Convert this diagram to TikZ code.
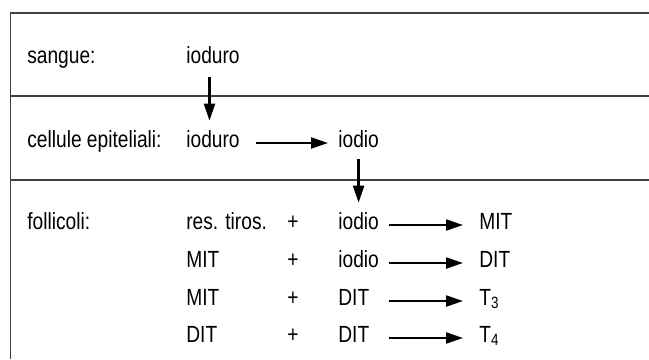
\documentclass[tikz,border=0pt]{standalone}
\usepackage{fontspec}
\setmainfont{Liberation Sans}[FakeStretch=0.82]
\usetikzlibrary{arrows.meta,positioning}

\begin{document}
\begin{tikzpicture}[
  txt/.style={font=\fontsize{13.3pt}{16pt}\selectfont, inner sep=0pt, text height=0.16cm, text depth=0pt, anchor=base west},
  col/.style={txt, text width=0.8cm, align=left},
  pls/.style={txt, anchor=base},
  frm/.style={line width=0.8pt, black!75},
  arr/.style={line width=1.3pt, -{Triangle[length=0.34cm,width=0.22cm]}}
]
\useasboundingbox (0,0) rectangle (12.98,-7.18);

% Frame
\draw[frm] (12.98,-0.26) -- (0.21,-0.26) -- (0.21,-7.18);
\draw[frm] (0.21,-1.92) -- (12.98,-1.92);
\draw[frm] (0.21,-3.60) -- (12.98,-3.60);

% Compartments
\node[txt] (sangue)    at (0.54,-1.26) {sangue:};
\node[txt] (cellule)   at (0.54,-2.94) {cellule epiteliali:};
\node[txt] (follicoli) at (0.54,-4.58) {follicoli:};

% Uptake
\node[txt] (ioduroS) at (3.72,-1.26) {ioduro};
\node[txt] (ioduroC) at (3.72,-2.94) {ioduro};
\node[txt] (iodioC)  at (6.76,-2.94) {iodio};

% Reactions in the follicle
\node[txt] (resA) at (3.72,-4.58) {res. tiros.};
\node[txt] (resB) at (3.72,-5.34) {MIT};
\node[txt] (resC) at (3.72,-6.10) {MIT};
\node[txt] (resD) at (3.72,-6.84) {DIT};
\node[pls] (plA)  at (5.86,-4.58) {+};
\node[pls] (plB)  at (5.86,-5.34) {+};
\node[pls] (plC)  at (5.86,-6.10) {+};
\node[pls] (plD)  at (5.86,-6.84) {+};
\node[col] (subA) at (6.76,-4.58) {iodio};
\node[col] (subB) at (6.76,-5.34) {iodio};
\node[col] (subC) at (6.76,-6.10) {DIT};
\node[col] (subD) at (6.76,-6.84) {DIT};
\node[txt] (prodA) at (9.58,-4.58) {MIT};
\node[txt] (prodB) at (9.58,-5.34) {DIT};
\node[txt] (prodC) at (9.58,-6.10) {T\textsubscript{3}};
\node[txt] (prodD) at (9.58,-6.84) {T\textsubscript{4}};

% Arrows
\draw[arr, shorten <=0.28cm, shorten >=0.36cm] ([xshift=-0.07cm]ioduroS.south) -- ([xshift=-0.07cm]ioduroC.north);
\draw[arr, shorten <=0.32cm, shorten >=0.2cm] (ioduroC) -- (iodioC);
\draw[arr, shorten <=0.24cm, shorten >=0.36cm] (iodioC.south) -- (subA.north -| iodioC.south);
\draw[arr, shorten <=0.2cm, shorten >=0.32cm] (subA) -- (prodA);
\draw[arr, shorten <=0.2cm, shorten >=0.32cm] (subB) -- (prodB);
\draw[arr, shorten <=0.2cm, shorten >=0.32cm] (subC) -- (prodC);
\draw[arr, shorten <=0.2cm, shorten >=0.32cm] (subD) -- (prodD);
\end{tikzpicture}
\end{document}
